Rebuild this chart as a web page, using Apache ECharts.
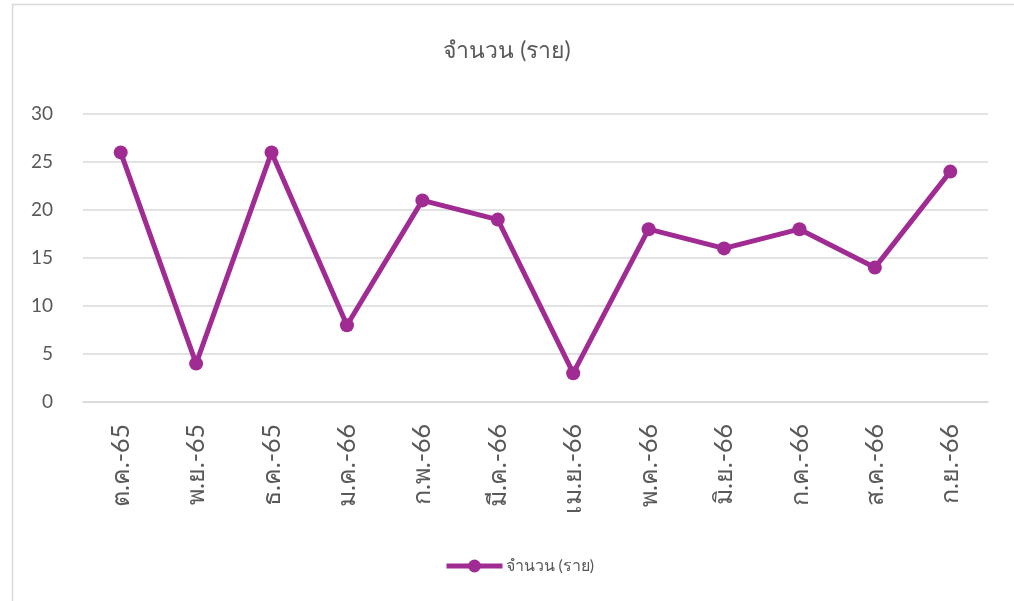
<!DOCTYPE html>
<html>
<head>
<meta charset="utf-8">
<script src="https://cdn.jsdelivr.net/npm/echarts@6/dist/echarts.min.js"></script>
<style>
  html, body { margin: 0; padding: 0; background: #fff; }
  #main { width: 1014px; height: 601px; }
</style>
</head>
<body>
<div id="main"></div>
<script>
// เดือน (ต.ค.-65 ถึง ก.ย.-66)
var months = ["ต.ค.-65", "พ.ย.-65", "ธ.ค.-65", "ม.ค.-66", "ก.พ.-66", "มี.ค.-66",
  "เม.ย.-66", "พ.ค.-66", "มิ.ย.-66", "ก.ค.-66", "ส.ค.-66", "ก.ย.-66"];
var cases = [26, 4, 26, 8, 21, 19, 3, 18, 16, 18, 14, 24];
var seriesName = "จำนวน (ราย)";

var font = "Lato, 'Noto Sans', sans-serif";
var purple = "#A02B93";

var myChart = echarts.init(document.getElementById("main"), null, { width: 1014, height: 601 });
var option = {
  animation: false,
  graphic: [{
    type: "rect",
    shape: { x: 12.5, y: 4.5, width: 1010, height: 610 },
    style: { fill: "none", stroke: "#d9d9d9", lineWidth: 1.5 }
  }],
  title: {
    text: seriesName,
    left: "center",
    top: 34,
    textStyle: { fontFamily: font, fontSize: 23, fontWeight: "normal", color: "#595959" }
  },
  legend: {
    bottom: 22,
    left: 439,
    itemWidth: 56,
    itemHeight: 16,
    itemGap: 4,
    lineStyle: { width: 5 },
    textStyle: { fontFamily: font, fontSize: 16, color: "#595959", padding: [0, 0, 0, -2] },
    data: [seriesName]
  },
  grid: { left: 83, right: 26, top: 114, bottom: 199 },
  xAxis: {
    type: "category",
    data: months,
    boundaryGap: true,
    axisLine: { lineStyle: { color: "#d9d9d9", width: 1.5 } },
    axisTick: { show: false },
    axisLabel: {
      rotate: 90,
      margin: 22,
      fontFamily: font,
      fontSize: 25,
      color: "#595959"
    }
  },
  yAxis: {
    type: "value",
    min: 0,
    max: 30,
    interval: 5,
    axisLine: { show: false },
    axisTick: { show: false },
    splitLine: { lineStyle: { color: "#d9d9d9", width: 1.5 } },
    axisLabel: { margin: 30, fontFamily: font, fontSize: 19, color: "#595959" }
  },
  series: [{
    name: seriesName,
    type: "line",
    data: cases,
    symbol: "circle",
    symbolSize: 14,
    lineStyle: { color: purple, width: 5 },
    itemStyle: { color: purple }
  }]
};
myChart.setOption(option);
</script>
</body>
</html>
